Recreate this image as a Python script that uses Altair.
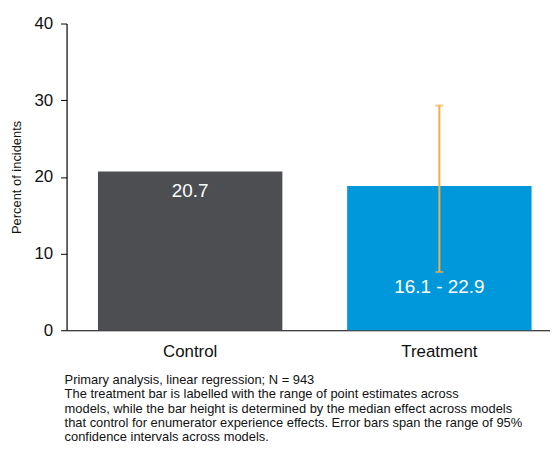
import altair as alt
import pandas as pd

categories = ["Control", "Treatment"]
values = [20.7, 18.8]
bar_labels = ["20.7", "16.1 - 22.9"]
ci_low = [None, 7.6]
ci_high = [None, 29.3]
colors = ["#4D4E52", "#0098DA"]
footnote = [
    "Primary analysis, linear regression; N = 943",
    "The treatment bar is labelled with the range of point estimates across",
    "models, while the bar height is determined by the median effect across models",
    "that control for enumerator experience effects. Error bars span the range of 95%",
    "confidence intervals across models.",
]

df = pd.DataFrame({
    "group": categories,
    "value": values,
    "label": bar_labels,
    "lo": ci_low,
    "hi": ci_high,
})

FONT = "Liberation Sans, Arial, sans-serif"

x = alt.X("group:N", sort=categories,
          scale=alt.Scale(paddingInner=0.26, paddingOuter=0.1, align=0.63),
          axis=alt.Axis(title=None, labelAngle=0, ticks=False, labelPadding=13,
                        labelFontSize=17, labelColor="#111", labelFont=FONT,
                        domainColor="#000", domainWidth=1.2))

base = alt.Chart(df)

bars = base.mark_bar().encode(
    x=x,
    y=alt.Y("value:Q", scale=alt.Scale(domain=[0, 40]),
            axis=alt.Axis(title="Percent of incidents", values=[0, 10, 20, 30, 40],
                          grid=False, tickSize=6, tickColor="#000", domainColor="#000",
                          domainWidth=1.2, labelFontSize=17, labelColor="#111",
                          labelFont=FONT, labelPadding=8, titleFont=FONT,
                          titleFontSize=13, titleFontWeight="normal", titleColor="#111",
                          titlePadding=10)),
    color=alt.Color("group:N", scale=alt.Scale(domain=categories, range=colors), legend=None),
)

ctrl_text = base.transform_filter(alt.datum.group == "Control").mark_text(
    color="white", fontSize=19, font=FONT, baseline="middle", dy=20
).encode(x=alt.X("group:N", sort=categories), y="value:Q", text="label:N")

treat_text = base.transform_filter(alt.datum.group == "Treatment").mark_text(
    color="white", fontSize=19, font=FONT, baseline="middle", dy=102
).encode(x=alt.X("group:N", sort=categories), y="value:Q", text="label:N")

err_base = base.transform_filter("isValid(datum.lo)")
err_rule = err_base.mark_rule(color="#F7AE45", strokeWidth=2).encode(
    x=alt.X("group:N", sort=categories), y="lo:Q", y2="hi:Q")
err_lo = err_base.mark_tick(color="#F7AE45", size=8, thickness=2).encode(
    x=alt.X("group:N", sort=categories), y="lo:Q")
err_hi = err_base.mark_tick(color="#F7AE45", size=8, thickness=2).encode(
    x=alt.X("group:N", sort=categories), y="hi:Q")

chart = alt.layer(bars, ctrl_text, treat_text, err_rule, err_lo, err_hi).properties(
    width=487, height=309,
    padding={"left": 3, "top": 5, "right": 0, "bottom": 5},
    title=alt.TitleParams(text=footnote, orient="bottom", anchor="start", frame="group",
                          fontSize=13, fontWeight="normal", font=FONT, color="#111",
                          lineHeight=14.5, offset=15, dx=-2),
).configure_view(stroke=None)

chart.save("out.html", embed_options={"renderer": "svg", "actions": False})
